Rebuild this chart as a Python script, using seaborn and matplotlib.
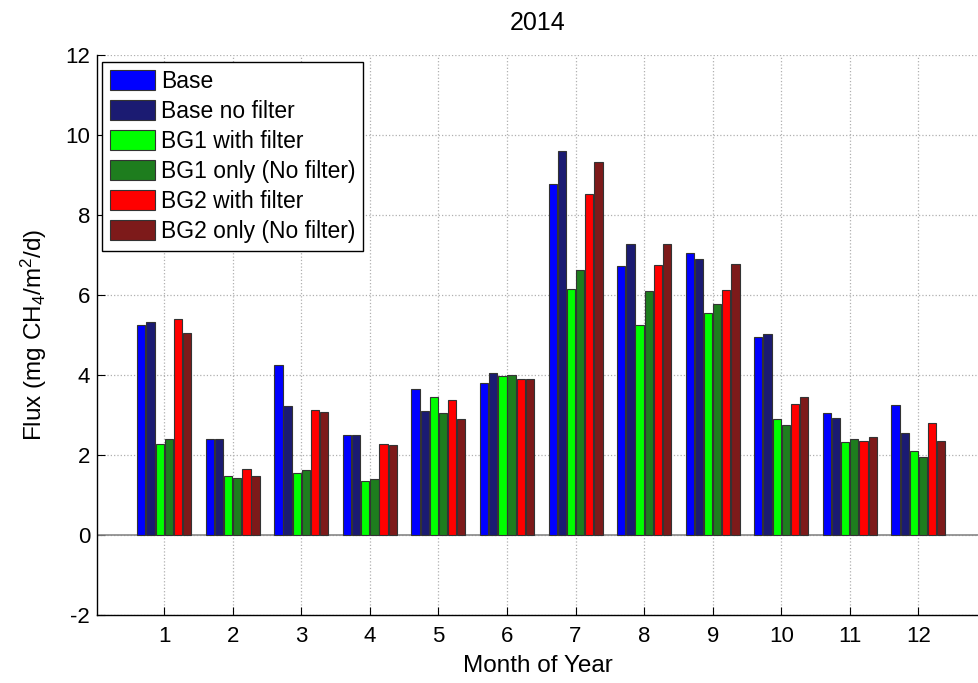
import matplotlib
matplotlib.use("Agg")
import matplotlib.pyplot as plt
import seaborn as sns
import pandas as pd

months = [str(m) for m in range(1, 13)]
series_names = ["Base", "Base no filter", "BG1 with filter",
                "BG1 only (No filter)", "BG2 with filter", "BG2 only (No filter)"]
base = [5.24, 2.41, 4.25, 2.51, 3.66, 3.80, 8.78, 6.72, 7.04, 4.95, 3.05, 3.25]
base_no_filter = [5.33, 2.41, 3.23, 2.51, 3.09, 4.04, 9.61, 7.28, 6.91, 5.03, 2.93, 2.55]
bg1_filter = [2.27, 1.47, 1.56, 1.36, 3.46, 3.98, 6.16, 5.24, 5.55, 2.91, 2.32, 2.11]
bg1_only = [2.39, 1.43, 1.62, 1.39, 3.06, 4.00, 6.62, 6.09, 5.77, 2.76, 2.40, 1.94]
bg2_filter = [5.41, 1.65, 3.12, 2.27, 3.38, 3.89, 8.52, 6.75, 6.12, 3.28, 2.36, 2.79]
bg2_only = [5.04, 1.47, 3.07, 2.25, 2.90, 3.91, 9.33, 7.28, 6.77, 3.46, 2.45, 2.34]
colors = ["#0000ff", "#1b1b72", "#00ff00", "#1e7d1e", "#ff0000", "#7d1a1a"]

values = [base, base_no_filter, bg1_filter, bg1_only, bg2_filter, bg2_only]
df = pd.DataFrame({
    "Month": [m for _ in series_names for m in months],
    "Series": [s for s in series_names for _ in months],
    "Flux": [v for vals in values for v in vals],
})

sns.set_theme(style="white")
plt.rcParams["font.family"] = ["Liberation Sans", "DejaVu Sans"]
plt.rcParams["mathtext.default"] = "regular"
plt.rcParams["axes.unicode_minus"] = False
plt.rcParams["text.color"] = "black"
plt.rcParams["axes.labelcolor"] = "black"
plt.rcParams["xtick.color"] = "black"
plt.rcParams["ytick.color"] = "black"

fig = plt.figure(figsize=(9.79, 6.83), dpi=100)
ax = fig.add_axes([97 / 979, 68 / 683, 881 / 979, 560 / 683])

sns.barplot(data=df, x="Month", y="Flux", hue="Series", order=months,
            hue_order=series_names, palette=colors, width=0.8, gap=0.1,
            edgecolor="#333333", linewidth=0.8, saturation=1, ax=ax, zorder=3)

ax.axhline(0, color="#888888", lw=1.2, zorder=2)
ax.set_xlim(-0.98, 11.87)
ax.set_ylim(-2, 12)
ax.set_yticks(range(-2, 13, 2))
ax.grid(True, which="major", color="#b0b0b0", linestyle=":", linewidth=0.9, zorder=0)
ax.set_axisbelow(True)

for side in ("top", "right"):
    ax.spines[side].set_visible(False)
for side in ("left", "bottom"):
    ax.spines[side].set_color("black")
    ax.spines[side].set_linewidth(1.0)
ax.tick_params(axis="both", direction="in", length=6, width=0.8, colors="black",
               labelcolor="black", labelsize=16, left=True, bottom=True)
ax.tick_params(axis="y", pad=5)
ax.tick_params(axis="x", pad=8)

ax.set_title("2014", fontsize=18, pad=18, color="black")
ax.set_xlabel("Month of Year", fontsize=17.5, labelpad=6, color="black")
ax.set_ylabel("Flux (mg CH$_4$/m$^2$/d)", fontsize=17.5, labelpad=12, color="black")

leg = ax.legend(loc="upper left", bbox_to_anchor=(0.006, 0.988), fontsize=16.5,
                frameon=True, fancybox=False, framealpha=1, edgecolor="black",
                handlelength=1.95, handleheight=1.0, handletextpad=0.25,
                labelspacing=0.3, borderpad=0.35, borderaxespad=0.0)
leg.get_frame().set_linewidth(1.0)
for t in leg.get_texts():
    t.set_color("black")

fig.savefig("out.png", dpi=100)
